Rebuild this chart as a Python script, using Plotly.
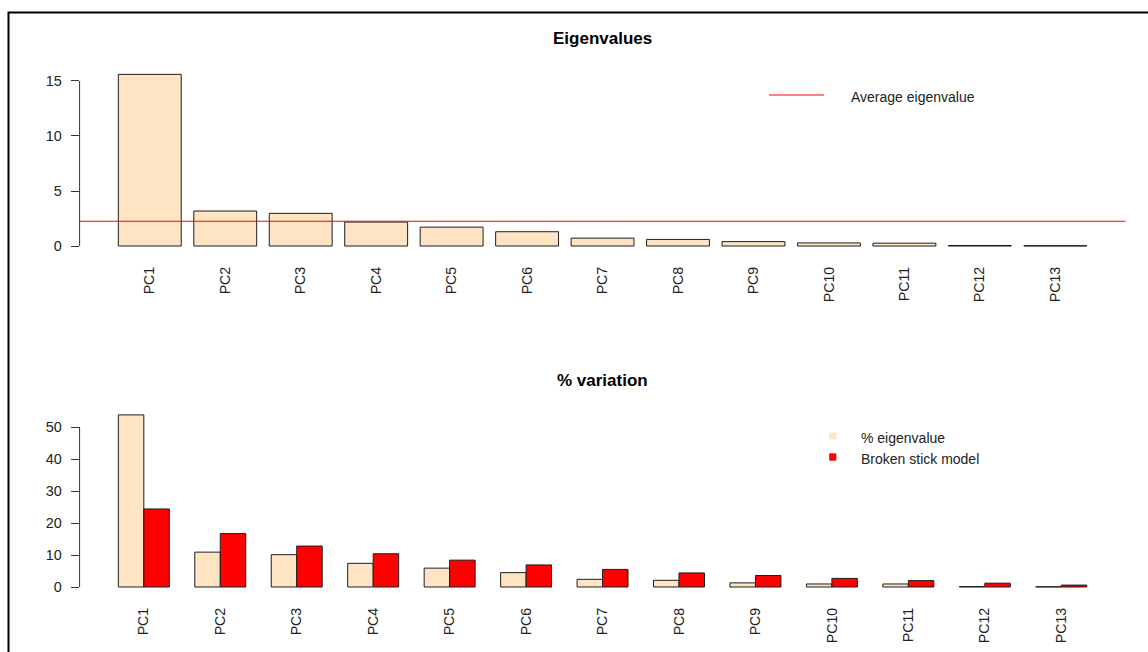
import plotly.graph_objects as go

# ---- data -------------------------------------------------------------
components = ["PC1", "PC2", "PC3", "PC4", "PC5", "PC6", "PC7",
              "PC8", "PC9", "PC10", "PC11", "PC12", "PC13"]
eigenvalues = [15.6, 3.18, 2.97, 2.18, 1.72, 1.30, 0.72,
               0.60, 0.40, 0.28, 0.26, 0.05, 0.03]
pct_eigenvalue = [53.8, 10.9, 10.1, 7.4, 5.9, 4.5, 2.4,
                  2.1, 1.3, 0.95, 0.95, 0.15, 0.1]
broken_stick = [24.4, 16.7, 12.8, 10.4, 8.4, 6.9, 5.5,
                4.4, 3.6, 2.7, 2.0, 1.2, 0.6]
top_ticks = [0, 5, 10, 15]
bottom_ticks = [0, 10, 20, 30, 40, 50]
average_eigenvalue = sum(eigenvalues) / len(eigenvalues)

# ---- styling ----------------------------------------------------------
W, H = 1148, 652
BISQUE = "#FFE4C4"
RED = "#FF0000"
OUTLINE = "#1e1e1e"
TEXT = "#222222"
FONT = "Liberation Sans, Arial, sans-serif"


def xp(px):
    return px / W


def yp(py):
    return 1 - py / H


plot_left, plot_right = 79.6, 1125.5
top_domain = [yp(252.9), yp(67.5)]
bottom_domain = [yp(593.9), yp(408.0)]

fig = go.Figure()

fig.add_trace(go.Bar(
    x=components, y=eigenvalues, name="Eigenvalue",
    width=1 / 1.2,
    marker=dict(color=BISQUE, line=dict(color=OUTLINE, width=1)),
    xaxis="x", yaxis="y", showlegend=False,
))
fig.add_trace(go.Bar(
    x=components, y=pct_eigenvalue, name="% eigenvalue",
    width=1 / 3, offset=-1 / 3,
    marker=dict(color=BISQUE, line=dict(color=OUTLINE, width=1)),
    xaxis="x2", yaxis="y2", showlegend=False,
))
fig.add_trace(go.Bar(
    x=components, y=broken_stick, name="Broken stick model",
    width=1 / 3, offset=0,
    marker=dict(color=RED, line=dict(color=OUTLINE, width=1)),
    xaxis="x2", yaxis="y2", showlegend=False,
))

xaxis_common = dict(
    type="category", showline=False, showgrid=False, zeroline=False,
    ticks="", tickangle=-90, ticklabelstandoff=10,
    tickfont=dict(family=FONT, size=14.2, color=TEXT),
    domain=[xp(plot_left), xp(plot_right)], fixedrange=True,
)
yaxis_common = dict(
    showline=False, showgrid=False, zeroline=False,
    ticks="outside", ticklen=8, tickwidth=1, tickcolor="#333333",
    ticklabelstandoff=6,
    tickfont=dict(family=FONT, size=14.4, color=TEXT),
    fixedrange=True,
)

top_span = max(eigenvalues)
bottom_span = max(pct_eigenvalue)

fig.update_layout(
    width=W, height=H,
    margin=dict(l=0, r=0, t=0, b=0),
    paper_bgcolor="white", plot_bgcolor="white",
    barmode="overlay",
    xaxis=dict(xaxis_common, anchor="y", range=[-0.93, 12.93]),
    yaxis=dict(yaxis_common, anchor="x", domain=top_domain,
               range=[-0.04 * top_span, 1.04 * top_span],
               tickvals=top_ticks),
    xaxis2=dict(xaxis_common, anchor="y2", range=[-0.84, 12.84]),
    yaxis2=dict(yaxis_common, anchor="x2", domain=bottom_domain,
                range=[-0.04 * bottom_span, 1.04 * bottom_span],
                tickvals=bottom_ticks),
)

shapes = [
    # outer frame
    dict(type="rect", xref="paper", yref="paper",
         x0=xp(8.5), x1=1.05, y0=-0.05, y1=yp(12.5),
         line=dict(color="black", width=2), layer="above"),
    # y axis lines spanning the tick range
    dict(type="line", xref="x domain", yref="y", x0=0, x1=0,
         y0=min(top_ticks), y1=max(top_ticks),
         line=dict(color="#333333", width=1)),
    dict(type="line", xref="x2 domain", yref="y2", x0=0, x1=0,
         y0=min(bottom_ticks), y1=max(bottom_ticks),
         line=dict(color="#333333", width=1)),
    # average eigenvalue reference line
    dict(type="line", xref="x domain", yref="y", x0=0, x1=1,
         y0=average_eigenvalue, y1=average_eigenvalue,
         line=dict(color=RED, width=1), layer="above"),
    # legend swatches
    dict(type="line", xref="paper", yref="paper",
         x0=xp(769), x1=xp(824), y0=yp(95), y1=yp(95),
         line=dict(color=RED, width=1)),
    dict(type="rect", xref="paper", yref="paper",
         x0=xp(829.2), x1=xp(836.3), y0=yp(439.3), y1=yp(432.3),
         fillcolor=BISQUE, line=dict(width=0)),
    dict(type="rect", xref="paper", yref="paper",
         x0=xp(829.2), x1=xp(836.3), y0=yp(460.7), y1=yp(453.3),
         fillcolor=RED, line=dict(width=0)),
]

annotations = [
    dict(text="<b>Eigenvalues</b>", xref="paper", yref="paper",
         x=xp((plot_left + plot_right) / 2), y=yp(38),
         xanchor="center", yanchor="middle", showarrow=False,
         font=dict(family=FONT, size=17, color="black")),
    dict(text="<b>% variation</b>", xref="paper", yref="paper",
         x=xp((plot_left + plot_right) / 2), y=yp(380),
         xanchor="center", yanchor="middle", showarrow=False,
         font=dict(family=FONT, size=17, color="black")),
    dict(text="Average eigenvalue", xref="paper", yref="paper",
         x=xp(849), y=yp(97), xanchor="left", yanchor="middle",
         showarrow=False, font=dict(family=FONT, size=14, color=TEXT)),
    dict(text="% eigenvalue", xref="paper", yref="paper",
         x=xp(859), y=yp(437.5), xanchor="left", yanchor="middle",
         showarrow=False, font=dict(family=FONT, size=14, color=TEXT)),
    dict(text="Broken stick model", xref="paper", yref="paper",
         x=xp(859), y=yp(458.5), xanchor="left", yanchor="middle",
         showarrow=False, font=dict(family=FONT, size=14, color=TEXT)),
]

fig.update_layout(shapes=shapes, annotations=annotations)

fig.write_html("out.html")
